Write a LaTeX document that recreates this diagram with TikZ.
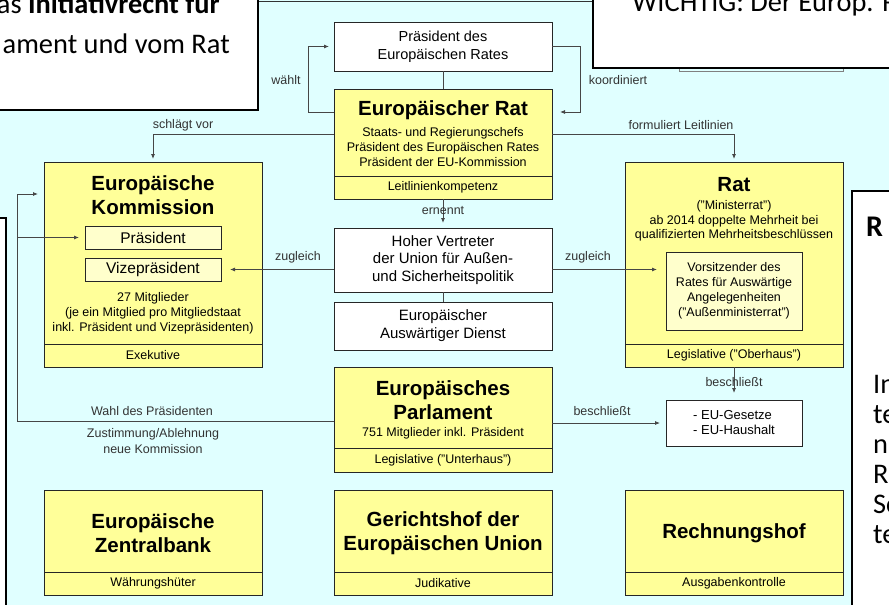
\documentclass[tikz,border=0pt]{standalone}
\usepackage{fontspec}
\setmainfont{Liberation Sans}
\newfontfamily\calibri{Carlito}
\usetikzlibrary{arrows.meta,calc}

\definecolor{bgcyan}{RGB}{224,255,255}
\definecolor{boxyellow}{RGB}{255,255,153}
\definecolor{paleyellow}{RGB}{255,255,204}
\definecolor{linegray}{RGB}{70,70,70}

\tikzset{
  box/.style={draw=black!85, line width=0.9pt, inner sep=0pt, outer sep=0pt, minimum width=218pt, anchor=north west, align=center},
  ybox/.style={box, fill=boxyellow},
  wbox/.style={box, fill=white, font=\fontsize{14.5}{18}\selectfont},
  ibox/.style={box, fill=paleyellow, minimum width=136pt},
  foot/.style={box, fill=boxyellow, anchor=south, minimum height=23pt, font=\fontsize{12.5}{15}\selectfont},
  ttl/.style={inner sep=0pt, align=center, font=\fontsize{20.5}{24}\selectfont\bfseries},
  txt/.style={inner sep=0pt, align=center, font=\fontsize{12.5}{15}\selectfont},
  lbl/.style={inner sep=0pt, align=center, text=black!80, font=\fontsize{12.5}{16}\selectfont},
  conn/.style={draw=linegray, line width=0.8pt},
  arr/.style={conn, -{Latex[length=5pt,width=4pt]}},
  callout/.style={draw=black, line width=1.2pt},
  notetext/.style={inner sep=0pt, font=\calibri\fontsize{28.4}{40}\selectfont},
}

\begin{document}
\begin{tikzpicture}[x=1pt,y=1pt,yscale=-1,xscale=1]
\useasboundingbox (0,0) rectangle (889,605);

%Shape: Background
\fill[bgcyan] (0,0) rectangle (889,605);
\draw[black!80, line width=1pt] (250,1.5) -- (600,1.5);
%Shape: covered box under the note
\draw[gray, line width=1pt] (679,66) -- (679,71) -- (843,71) -- (843,66);

%Shape: Rectangle - Praesident des Europaeischen Rates
\node[wbox, minimum height=49pt] (praes) at (334,22) {Präsident des\\Europäischen Rates};
%Shape: Rectangle - Europaeischer Rat
\node[ybox, minimum height=110pt] (erat) at (334,89) {};
\node[foot] (eratfoot) at (erat.south) {Leitlinienkompetenz};
% Text Node
\node[ttl] (erattitle) at (443,110) {Europäischer Rat};
% Text Node
\node[txt] (erattext) at (443,147) {Staats- und Regierungschefs\\Präsident des Europäischen Rates\\Präsident der EU-Kommission};

%Shape: Rectangle - Kommission
\node[ybox, minimum height=205pt] (ekom) at (44,162) {};
\node[foot] (ekomfoot) at (ekom.south) {Exekutive};
% Text Node
\node[ttl] (ekomtitle) at (153,195) {Europäische\\Kommission};
\node[ibox, minimum height=23pt, font=\fontsize{15.5}{18}\selectfont] (ekpraes) at (85,226) {Präsident};
\node[ibox, minimum height=23pt, font=\fontsize{15.5}{18}\selectfont] (ekvize) at (85,258) {Vizepräsident};
% Text Node
\node[txt] (ekomtext) at (153,313) {27 Mitglieder\\(je ein Mitglied pro Mitgliedstaat\\inkl. Präsident und Vizepräsidenten)};

%Shape: Rectangle - Hoher Vertreter
\node[wbox, minimum height=64pt, font=\fontsize{15}{17.5}\selectfont] (hv) at (334,228) {Hoher Vertreter\\der Union für Außen-\\und Sicherheitspolitik};
%Shape: Rectangle - Auswaertiger Dienst
\node[wbox, minimum height=48pt, font=\fontsize{15}{18}\selectfont] (ead) at (334,302) {Europäischer\\Auswärtiger Dienst};

%Shape: Rectangle - Rat
\node[ybox, minimum height=205pt] (rat) at (625,162) {};
\node[foot] (ratfoot) at (rat.south) {Legislative ("Oberhaus")};
% Text Node
\node[ttl] (rattitle) at (734,185) {Rat};
% Text Node
\node[txt, font=\fontsize{12.5}{14.5}\selectfont] (rattext) at (734,221) {("Ministerrat")\\ab 2014 doppelte Mehrheit bei\\qualifizierten Mehrheitsbeschlüssen};
\node[ibox, minimum height=78pt, font=\fontsize{12.5}{15}\selectfont] (vors) at (666,252) {Vorsitzender des\\Rates für Auswärtige\\Angelegenheiten\\("Außenministerrat")};

%Shape: Rectangle - Parlament
\node[ybox, minimum height=105pt] (ep) at (334,367) {};
\node[foot, minimum height=24pt] (epfoot) at (ep.south) {Legislative ("Unterhaus")};
% Text Node
\node[ttl] (eptitle) at (443,400) {Europäisches\\Parlament};
% Text Node
\node[txt] (eptext) at (443,433) {751 Mitglieder inkl. Präsident};

%Shape: Rectangle - Gesetze
\node[wbox, minimum width=136pt, minimum height=46pt, align=left, font=\fontsize{13}{15}\selectfont] (gesetze) at (666,400) {- EU-Gesetze\\- EU-Haushalt};

%Shape: Rectangle - bottom row
\node[ybox, minimum height=105pt] (ezb) at (44,490) {};
\node[foot] (ezbfoot) at (ezb.south) {Währungshüter};
\node[ttl] (ezbtitle) at (153,533) {Europäische\\Zentralbank};
\node[ybox, minimum height=105pt] (eugh) at (334,490) {};
\node[foot] (eughfoot) at (eugh.south) {Judikative};
\node[ttl] (eughtitle) at (443,533) {Gerichtshof der\\Europäischen Union};
\node[ybox, minimum height=105pt] (rh) at (625,490) {};
\node[foot] (rhfoot) at (rh.south) {Ausgabenkontrolle};
\node[ttl] (rhtitle) at (734,533) {Rechnungshof};

%Straight Lines
\draw[conn] (praes) -- (erat);
\draw[arr, shorten >=5pt] ($(erat.north west)+(0,23)$) -- ++(-26,0) |- (praes.west);
\draw[arr, shorten >=8pt] (praes.east) -- ++(28,0) |- ($(erat.north east)+(0,23)$);
\draw[arr, shorten >=3pt] ($(erat.north west)+(0,45)$) -| (ekom.north);
\draw[arr, shorten >=3pt] ($(erat.north east)+(0,45)$) -| (rat.north);
\draw[arr, shorten >=5pt] (eratfoot.south) -- (hv.north);
\draw[conn] (hv) -- (ead);
\draw[arr, shorten >=9pt] (hv.west |- ekvize.east) -- (ekvize.east);
\draw[arr, shorten >=9pt] (hv.east |- ekvize.east) -- (vors.west |- ekvize.east);
\draw[arr, shorten >=7pt] (ratfoot.south) -- (gesetze.north);
\draw[arr, shorten >=6pt] (ep.east |- gesetze.west) -- (gesetze.west);
\coordinate (wahlecke) at (17,421);
\draw[arr, shorten >=6pt] (ep.west |- wahlecke) -- (wahlecke) |- ($(ekom.north west)+(0,32)$);
\draw[arr, shorten >=6pt] (ekpraes.west -| wahlecke) -- (ekpraes.west);

% Text Node
\node[lbl] (lwaehlt) at (286,80) {wählt};
\node[lbl] (lkoord) at (618,80) {koordiniert};
\node[lbl] (lvor) at (183,125) {schlägt vor};
\node[lbl] (lleit) at (681,125) {formuliert Leitlinien};
\node[lbl] (lernennt) at (443,211) {ernennt};
\node[lbl] (lzugl) at (298,257) {zugleich};
\node[lbl] (lzugr) at (588,257) {zugleich};
\node[lbl] (lbeschl) at (734,382) {beschließt};
\node[lbl] (lbeschr) at (602,411) {beschließt};
\node[lbl] (lwahl) at (152,411) {Wahl des Präsidenten};
\node[lbl] (lzust) at (153,441) {Zustimmung/Ablehnung\\neue Kommission};

%Shape: notes lying over the diagram
\fill[white] (-2,-2) rectangle (258,110);
\draw[callout] (258,-2) -- (258,110) -- (-2,110);
\begin{scope}
\clip (0,0) rectangle (257,109);
\node[notetext, anchor=base east] (notea) at (220,13) {as \textbf{Initiativrecht für}};
\node[notetext, anchor=base east] (noteb) at (230,53) {ament und vom Rat};
\end{scope}

\fill[white] (593,-2) rectangle (891,68);
\draw[callout] (593,-2) -- (593,68) -- (891,68);
\begin{scope}
\clip (594,0) rectangle (889,67);
\node[notetext, anchor=base west] (notec) at (632,12) {WICHTIG: Der Europ. Rat};
\end{scope}

\fill[white] (852,191) rectangle (891,607);
\draw[callout] (891,191) -- (852,191) -- (852,607);
\begin{scope}
\clip (853,192) rectangle (889,605);
\node[notetext, anchor=base west, font=\calibri\fontsize{30}{30}\selectfont\bfseries] (noted) at (866,236) {R};
\node[notetext, anchor=base west] (notee) at (873,393) {In};
\node[notetext, anchor=base west] (notef) at (873,423) {te};
\node[notetext, anchor=base west] (noteg) at (873,453) {n};
\node[notetext, anchor=base west] (noteh) at (873,483) {R};
\node[notetext, anchor=base west] (notei) at (873,513) {Sc};
\node[notetext, anchor=base west] (notej) at (873,543) {te};
\end{scope}

\fill[white] (-2,218) rectangle (6,607);
\draw[callout] (-2,218) -- (6,218) -- (6,607);
\end{tikzpicture}
\end{document}
